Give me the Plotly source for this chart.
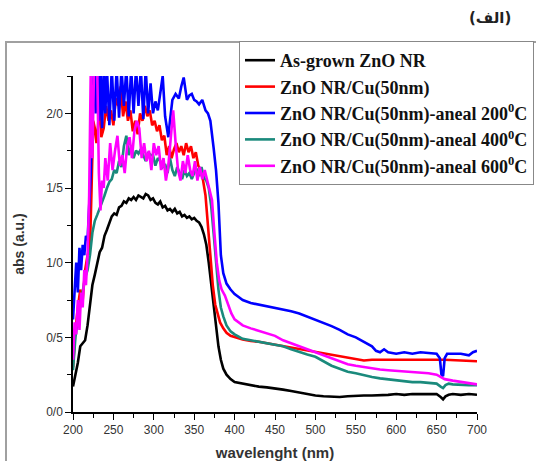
import plotly.graph_objects as go

# ---------------- data ----------------
names = [
    "As-grown ZnO NR",
    "ZnO NR/Cu(50nm)",
    "ZnO NR/Cu(50nm)-aneal 200<sup>0</sup>C",
    "ZnO NR/Cu(50nm)-aneal 400<sup>0</sup>C",
    "ZnO NR/Cu(50nm)-aneal 600<sup>0</sup>C",
]
colors = ["#000000", "#ff0000", "#0000ff", "#1a8a7c", "#ff00ff"]

wl_asgrown = [200, 203, 206, 209, 212, 215, 218, 221, 224, 227, 230, 233, 236, 239, 242, 245, 248, 251, 254, 257,
              260, 263, 266, 269, 272, 275, 278, 281, 284, 287, 290, 293, 296, 299, 302, 305, 308, 311, 314, 317,
              320, 323, 326, 329, 332, 335, 338, 341, 344, 347, 350, 353, 356, 359, 362, 365, 368, 371, 374, 377,
              380, 383, 386, 390, 395, 400, 410, 420, 430, 440, 450, 460, 470, 480, 490, 500, 510, 520, 530, 540,
              550, 560, 570, 580, 590, 600, 610, 620, 630, 640, 650, 655, 658, 661, 665, 670, 680, 690, 700]
abs_asgrown = [0.17, 0.24, 0.33, 0.44, 0.46, 0.48, 0.58, 0.72, 0.85, 0.92, 1.00, 1.07, 1.10, 1.18, 1.22, 1.26, 1.31, 1.33, 1.32, 1.37,
               1.38, 1.41, 1.40, 1.43, 1.42, 1.44, 1.42, 1.45, 1.44, 1.43, 1.46, 1.45, 1.42, 1.43, 1.40, 1.39, 1.41, 1.37, 1.38, 1.35,
               1.36, 1.34, 1.36, 1.33, 1.34, 1.31, 1.32, 1.30, 1.31, 1.29, 1.30, 1.28, 1.27, 1.24, 1.19, 1.12, 1.00, 0.86, 0.72, 0.56,
               0.44, 0.35, 0.29, 0.25, 0.22, 0.20, 0.19, 0.18, 0.17, 0.165, 0.16, 0.15, 0.14, 0.13, 0.12, 0.11, 0.105, 0.10, 0.10, 0.105,
               0.11, 0.11, 0.11, 0.11, 0.115, 0.12, 0.115, 0.12, 0.12, 0.12, 0.12, 0.10, 0.085, 0.105, 0.115, 0.12, 0.115, 0.12, 0.115]

wl_cu = [200, 203, 206, 209, 212, 215, 218, 221, 223, 225, 227, 229, 231, 233, 235, 238, 241, 244, 247, 250,
         253, 256, 259, 262, 265, 268, 271, 274, 277, 280, 283, 286, 289, 292, 295, 298, 301, 304, 307, 310,
         313, 316, 319, 322, 325, 328, 331, 334, 337, 340, 343, 346, 349, 352, 355, 358, 361, 364, 367, 370,
         373, 376, 379, 382, 386, 390, 395, 400, 410, 420, 430, 440, 450, 460, 470, 480, 490, 500, 510, 520,
         530, 540, 550, 560, 570, 580, 590, 600, 620, 640, 660, 680, 700]
abs_cu = [0.30, 0.55, 0.70, 0.82, 0.75, 0.95, 1.05, 1.10, 1.50, 1.95, 1.90, 1.80, 1.92, 2.10, 1.84, 1.90, 2.05, 1.95, 2.02, 1.92,
          2.10, 2.05, 2.18, 1.98, 2.08, 1.95, 2.02, 1.88, 1.95, 1.86, 2.00, 1.95, 2.05, 1.98, 2.02, 1.92, 1.95, 1.88, 1.92, 1.82,
          1.85, 1.72, 1.78, 1.70, 1.76, 1.80, 1.74, 1.78, 1.72, 1.80, 1.74, 1.78, 1.70, 1.74, 1.65, 1.62, 1.55, 1.45, 1.25, 1.05,
          0.85, 0.72, 0.65, 0.60, 0.56, 0.53, 0.51, 0.50, 0.485, 0.475, 0.47, 0.46, 0.45, 0.44, 0.43, 0.42, 0.41, 0.40, 0.39, 0.38,
          0.37, 0.36, 0.35, 0.345, 0.35, 0.35, 0.355, 0.355, 0.355, 0.35, 0.35, 0.345, 0.34]

wl_a200 = [200, 202, 204, 206, 208, 210, 212, 214, 216, 218, 220, 222, 224, 226, 228, 230, 232, 234, 236, 238,
           240, 242, 245, 248, 251, 254, 257, 260, 263, 266, 269, 272, 275, 278, 281, 284, 287, 290, 293, 296,
           299, 302, 305, 308, 311, 314, 318, 320, 323, 327, 331, 334, 337, 341, 344, 347, 350, 353, 356, 360,
           364, 367, 370, 374, 377, 380, 383, 386, 390, 395, 400, 405, 410, 420, 430, 440, 450, 460, 470, 480,
           490, 500, 510, 520, 530, 540, 550, 560, 570, 575, 580, 585, 590, 600, 610, 620, 630, 640, 650, 654,
           656, 658, 660, 663, 670, 680, 690, 695, 700]
abs_a200 = [0.62, 0.85, 1.00, 0.80, 1.10, 0.95, 1.12, 1.05, 1.18, 1.15, 1.35, 1.60, 2.05, 2.30, 2.00, 2.30, 1.95, 2.30, 1.90, 2.30,
            2.00, 2.30, 1.92, 2.30, 1.95, 2.30, 1.97, 2.30, 2.05, 2.30, 1.98, 2.30, 2.00, 2.30, 2.05, 2.30, 1.96, 2.30, 2.00, 2.20,
            2.00, 2.08, 2.02, 2.12, 2.25, 1.98, 1.84, 1.95, 2.09, 2.13, 2.10, 2.18, 2.24, 2.09, 2.12, 2.13, 2.09, 2.08, 2.06, 2.09,
            2.02, 2.00, 1.95, 1.77, 1.62, 1.40, 1.05, 0.93, 0.86, 0.82, 0.79, 0.77, 0.75, 0.73, 0.72, 0.71, 0.70, 0.69, 0.675, 0.66,
            0.64, 0.62, 0.60, 0.575, 0.55, 0.52, 0.50, 0.47, 0.44, 0.41, 0.40, 0.42, 0.40, 0.39, 0.40, 0.39, 0.40, 0.395, 0.39, 0.36,
            0.25, 0.24, 0.36, 0.39, 0.39, 0.39, 0.38, 0.40, 0.41]

wl_a400 = [200, 203, 206, 209, 212, 215, 218, 221, 224, 227, 230, 233, 236, 239, 242, 245, 248, 251, 254, 257,
           260, 263, 266, 269, 272, 275, 278, 281, 284, 287, 290, 293, 296, 299, 302, 305, 308, 311, 314, 317,
           320, 323, 326, 329, 332, 335, 338, 341, 344, 347, 350, 353, 356, 359, 362, 365, 368, 371, 374, 377,
           380, 383, 386, 390, 395, 400, 410, 420, 430, 440, 450, 460, 470, 480, 490, 500, 510, 520, 530, 540,
           550, 560, 570, 580, 590, 600, 610, 620, 630, 640, 650, 655, 658, 661, 665, 670, 680, 690, 700]
abs_a400 = [0.28, 0.50, 0.62, 0.72, 0.80, 0.90, 0.95, 1.05, 1.20, 1.28, 1.32, 1.36, 1.40, 1.45, 1.50, 1.54, 1.56, 1.62, 1.60, 1.68,
            1.64, 1.78, 1.85, 1.72, 1.78, 1.70, 1.75, 1.73, 1.76, 1.72, 1.68, 1.74, 1.72, 1.72, 1.65, 1.70, 1.68, 1.64, 1.66, 1.60,
            1.70, 1.62, 1.58, 1.64, 1.60, 1.56, 1.62, 1.58, 1.60, 1.56, 1.60, 1.63, 1.58, 1.64, 1.57, 1.55, 1.50, 1.38, 1.20, 1.00,
            0.82, 0.70, 0.64, 0.58, 0.54, 0.52, 0.49, 0.48, 0.47, 0.46, 0.45, 0.44, 0.42, 0.40, 0.385, 0.37, 0.34, 0.31, 0.29, 0.27,
            0.26, 0.245, 0.235, 0.225, 0.22, 0.21, 0.205, 0.20, 0.20, 0.195, 0.19, 0.17, 0.16, 0.18, 0.19, 0.185, 0.18, 0.18, 0.18]

wl_a600 = [200, 202, 204, 206, 208, 210, 212, 214, 216, 218, 220, 222, 224, 226, 228, 230, 232, 234, 236, 238,
           240, 243, 246, 249, 252, 255, 258, 261, 264, 267, 270, 273, 276, 279, 282, 285, 288, 291, 294, 297,
           300, 303, 306, 309, 312, 315, 318, 321, 324, 327, 330, 333, 336, 339, 342, 345, 348, 351, 354, 357,
           360, 363, 366, 369, 372, 375, 378, 381, 384, 388, 392, 396, 400, 410, 420, 430, 440, 450, 460, 470,
           480, 490, 500, 510, 520, 530, 540, 550, 560, 570, 580, 590, 600, 610, 620, 630, 640, 650, 660, 670,
           680, 690, 700]
abs_a600 = [0.35, 0.60, 0.52, 0.75, 0.55, 0.80, 0.70, 0.95, 0.85, 1.05, 1.45, 2.30, 1.70, 2.30, 2.30, 2.30, 1.60, 1.35, 1.55, 1.50,
            1.70, 1.55, 1.80, 1.62, 1.75, 1.85, 1.65, 1.72, 1.60, 1.78, 1.84, 1.70, 1.88, 1.95, 1.90, 1.70, 1.80, 1.68, 1.75, 1.62,
            1.80, 1.72, 1.78, 1.62, 1.70, 1.55, 1.65, 1.85, 2.02, 1.80, 1.62, 1.55, 1.68, 1.60, 1.72, 1.62, 1.58, 1.68, 1.55, 1.64,
            1.56, 1.62, 1.55, 1.50, 1.42, 1.20, 1.00, 0.88, 0.82, 0.78, 0.72, 0.66, 0.62, 0.58, 0.56, 0.545, 0.53, 0.51, 0.48, 0.46,
            0.44, 0.42, 0.40, 0.38, 0.355, 0.34, 0.32, 0.31, 0.30, 0.29, 0.285, 0.28, 0.275, 0.27, 0.265, 0.26, 0.26, 0.25, 0.22, 0.21,
            0.20, 0.19, 0.185]

series_x = [wl_asgrown, wl_cu, wl_a200, wl_a400, wl_a600]
series_y = [abs_asgrown, abs_cu, abs_a200, abs_a400, abs_a600]

y_tickvals = [0.0, 0.5, 1.0, 1.5, 2.0]
y_ticktext = ["0/0", "0/5", "1/0", "1/5", "2/0"]
x_tickvals = [200, 250, 300, 350, 400, 450, 500, 550, 600, 650, 700]

panel_label = "(الف)"
x_title = "wavelenght (nm)"
y_title = "abs (a.u.)"

# ---------------- figure ----------------
W, H = 536, 461
ML, MR, MT, MB = 73, 59, 76, 49
pw, ph = W - ML - MR, H - MT - MB

def px_x(p):
    return (p - ML) / pw

def px_y(p):
    return (H - MB - p) / ph

fig = go.Figure()
for xs, ys, nm, col in zip(series_x, series_y, names, colors):
    fig.add_trace(go.Scatter(x=xs, y=ys, name="<b>" + nm + "</b>", mode="lines",
                             line=dict(color=col, width=2.6)))

axis_common = dict(
    showgrid=False, zeroline=False, showline=True, linecolor="#000000", linewidth=1.5,
    ticks="outside", ticklen=6, tickwidth=1.2, tickcolor="#000000",
    tickfont=dict(family="Liberation Sans, Arial", size=12, color="#333333"),
    mirror=False,
)
fig.update_xaxes(range=[200, 700], tickvals=x_tickvals,
                 minor=dict(dtick=25, tick0=200, ticks="outside", ticklen=4, tickwidth=1.2, tickcolor="#000000"),
                 title=dict(text="<b>" + x_title + "</b>", font=dict(family="Liberation Sans, Arial", size=15, color="#333333"), standoff=12),
                 **axis_common)
fig.update_yaxes(range=[0, 2.25], tickvals=y_tickvals, ticktext=y_ticktext,
                 minor=dict(dtick=0.25, tick0=0, ticks="outside", ticklen=4, tickwidth=1.2, tickcolor="#000000"),
                 title=dict(text="<b>" + y_title + "</b>", font=dict(family="Liberation Sans, Arial", size=14, color="#333333"), standoff=18),
                 **axis_common)

# outer image frame (cut off at right/bottom)
fig.add_shape(type="rect", xref="paper", yref="paper",
              x0=px_x(6), x1=px_x(560), y0=px_y(480), y1=px_y(42),
              line=dict(color="#a0a0a0", width=2), fillcolor="rgba(0,0,0,0)", layer="below")

fig.add_annotation(text="<b>" + panel_label + "</b>", xref="paper", yref="paper", x=px_x(490), y=px_y(18),
                   showarrow=False, xanchor="center", yanchor="middle",
                   font=dict(family="DejaVu Sans", size=15, color="#222222"))

fig.update_layout(
    width=W, height=H,
    margin=dict(l=ML, r=MR, t=MT, b=MB, autoexpand=False),
    paper_bgcolor="white", plot_bgcolor="white",
    showlegend=True,
    legend=dict(x=px_x(239), y=px_y(41), xanchor="left", yanchor="top",
                bgcolor="white", bordercolor="#888888", borderwidth=1,
                font=dict(family="Liberation Serif, Times New Roman", size=18, color="#111111"),
                tracegroupgap=0, itemwidth=30),
)

fig.write_html("out.html", config={"displayModeBar": False},
               post_script="document.body.style.margin='0';")
